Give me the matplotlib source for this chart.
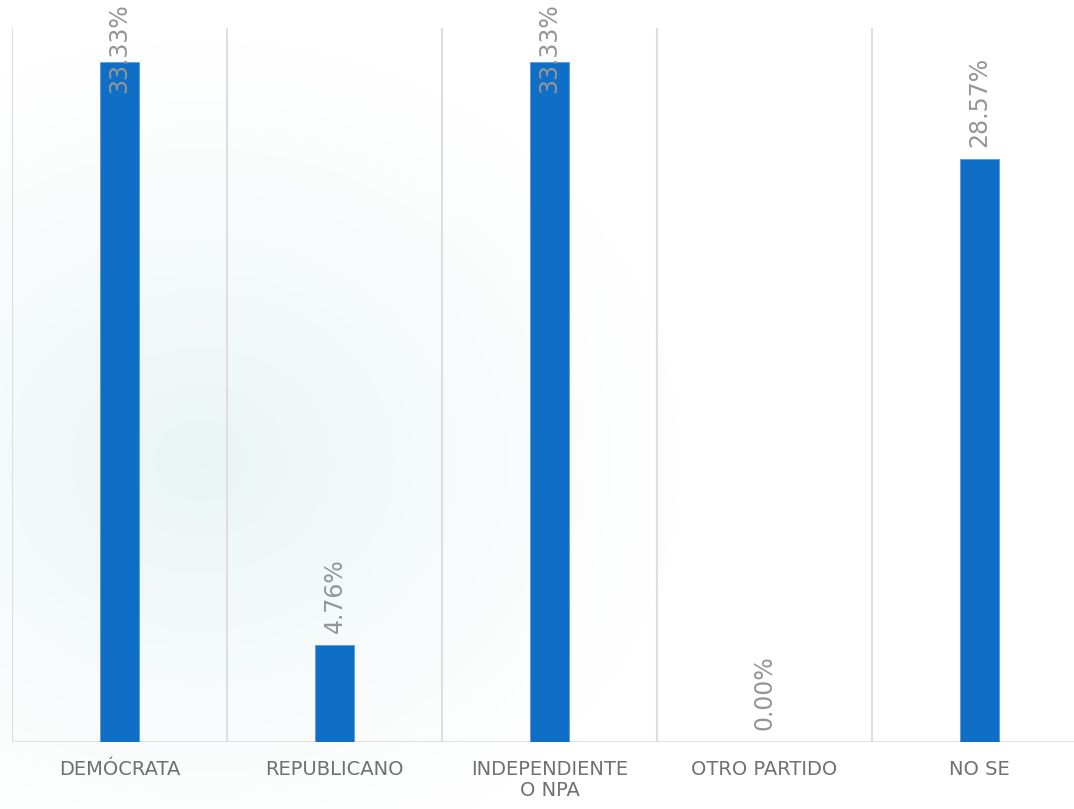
import matplotlib.pyplot as plt
import numpy as np

# Party affiliation (%)
categories = ["DEMÓCRATA", "REPUBLICANO", "INDEPENDIENTE\nO NPA", "OTRO PARTIDO", "NO SE"]
values = [33.33, 4.76, 33.33, 0.00, 28.57]
labels = ["33.33%", "4.76%", "33.33%", "0.00%", "28.57%"]

W, H = 1074, 809
fig = plt.figure(figsize=(W / 100, H / 100), dpi=100)
fig.patch.set_facecolor("white")

# faint radial glow in the background
bg = fig.add_axes([0, 0, 1, 1], zorder=0)
yy, xx = np.mgrid[0:H, 0:W]
r = np.hypot((xx - 200) / 480, (yy - 460) / 420)
glow = np.clip(1 - r, 0, 1) ** 1.2
img = np.ones((H, W, 3))
tint = np.array([0.92, 0.96, 0.96])
img = img - glow[..., None] * (1 - tint)
bg.imshow(img, aspect="auto", extent=[0, W, H, 0])
bg.axis("off")

# axes geometry in pixels: left 12, right 1087 (past the edge), top 28, bottom 742
ax = fig.add_axes([12 / W, (H - 742) / H, (1087 - 12) / W, (742 - 28) / H], zorder=1)
ax.patch.set_alpha(0)

x = np.arange(len(categories))
ax.bar(x, values, width=0.18, color="#0F6FC6", edgecolor="#5b9bd5", linewidth=0.6, zorder=3)

ax.set_xlim(-0.5, len(categories) - 0.5)
ax.set_ylim(0, 35)

for b in np.arange(-0.5, len(categories) + 0.5, 1):
    ax.axvline(b, color="#dedede", linewidth=1.5, zorder=1)
ax.axhline(0, color="#dedede", linewidth=2, zorder=2)

for s in ax.spines.values():
    s.set_visible(False)
ax.set_yticks([])
ax.set_xticks(x)
ax.set_xticklabels(categories, fontsize=14, color="#707070", linespacing=1.15)
ax.tick_params(axis="x", length=0, pad=13)

for xi, v, lab in zip(x, values, labels):
    ypos = min(v + 0.6, 31.8)
    ax.text(xi, ypos, lab, rotation=90, ha="center", va="bottom",
            fontsize=17, color="#959595", zorder=4, clip_on=False)

fig.savefig("out.png", dpi=100)
